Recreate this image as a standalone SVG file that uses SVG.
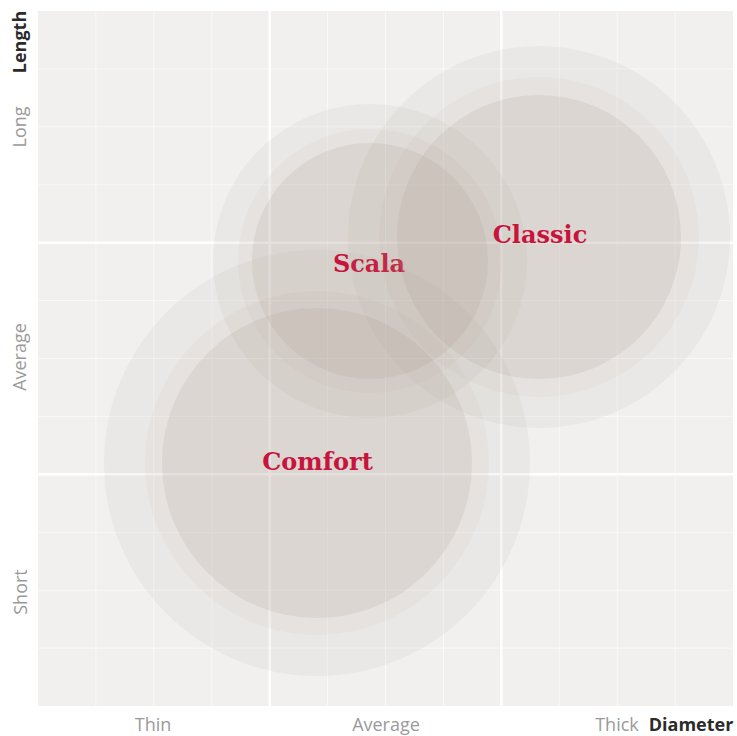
<svg xmlns="http://www.w3.org/2000/svg" width="737" height="736" viewBox="0 0 737 736">
<style>
.minor{stroke:#ffffff;stroke-width:1;stroke-opacity:0.6}
.major{stroke:#ffffff;stroke-width:2.5}
.ring{fill:#aa9b91}
.r1{fill-opacity:0.09}
.r2{fill-opacity:0.075}
.r3{fill-opacity:0.17}
.name{font-family:"DejaVu Serif",serif;font-weight:bold;font-size:24px;fill:#c8143c;text-anchor:middle}
.ax{font-family:"Open Sans","Noto Sans",sans-serif;font-size:18px;fill:#9a9a9a;text-anchor:middle}
.axb{font-family:"Open Sans","Noto Sans",sans-serif;font-size:18px;font-weight:bold;fill:#2b2b2b;text-anchor:middle}
</style>
<rect width="737" height="736" fill="#ffffff"/>
<g id="plot">
<rect x="38" y="11" width="695" height="695" fill="#f1f0ef"/>
<g id="grid-minor">
<path class="minor" d="M95.9 11V706M153.8 11V706M211.8 11V706M327.6 11V706M385.5 11V706M443.4 11V706M559.3 11V706M617.2 11V706M675.1 11V706M38 68.9H733M38 126.8H733M38 184.8H733M38 300.6H733M38 358.5H733M38 416.4H733M38 532.3H733M38 590.2H733M38 648.1H733"/>
</g>
<g id="grid-major">
<path class="major" d="M269.7 11V706M501.3 11V706M38 242.7H733M38 474.3H733"/>
</g>
</g>
<g id="comfort">
<circle class="ring r1" cx="317" cy="463" r="213"/>
<circle class="ring r2" cx="317" cy="463" r="172"/>
<circle class="ring r3" cx="317" cy="463" r="155"/>
<text class="name" x="317.5" y="470">Comfort</text>
</g>
<g id="scala">
<circle class="ring r1" cx="370" cy="261" r="157"/>
<circle class="ring r2" cx="370" cy="261" r="132"/>
<circle class="ring r3" cx="370" cy="261" r="118"/>
<text class="name" x="369" y="272">Scala</text>
</g>
<g id="classic">
<circle class="ring r1" cx="539" cy="237" r="191"/>
<circle class="ring r2" cx="539" cy="237" r="160"/>
<circle class="ring r3" cx="539" cy="237" r="142"/>
<text class="name" x="540" y="243">Classic</text>
</g>
<g id="connectors"></g>
<g id="y-axis">
<text class="axb" transform="translate(26,42) rotate(-90)">Length</text>
<text class="ax" transform="translate(26,127) rotate(-90)">Long</text>
<text class="ax" transform="translate(26,357) rotate(-90)">Average</text>
<text class="ax" transform="translate(27,592) rotate(-90)">Short</text>
</g>
<g id="x-axis">
<text class="ax" x="153" y="731">Thin</text>
<text class="ax" x="386" y="731">Average</text>
<text class="ax" x="617" y="731">Thick</text>
<text class="axb" x="691" y="731">Diameter</text>
</g>
</svg>
